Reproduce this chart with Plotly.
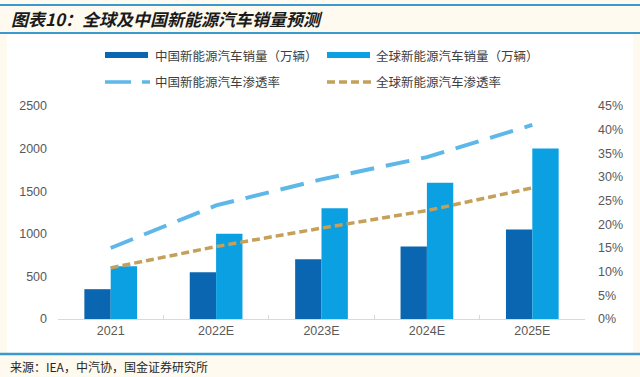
import plotly.graph_objects as go

# ---- data ----
categories = ["2021", "2022E", "2023E", "2024E", "2025E"]
china_sales = [350, 550, 700, 850, 1050]          # 万辆
global_sales = [620, 1000, 1300, 1600, 2000]      # 万辆
china_pen = [0.150, 0.240, 0.295, 0.342, 0.410]
global_pen = [0.108, 0.153, 0.192, 0.229, 0.277]

names = ["中国新能源汽车销量（万辆）", "全球新能源汽车销量（万辆）",
         "中国新能源汽车渗透率", "全球新能源汽车渗透率"]
title_text = "图表10：全球及中国新能源汽车销量预测"
source_text = "来源：IEA，中汽协，国金证券研究所"

C_DARK = "#0A66B0"
C_LIGHT = "#0AA0E2"
C_LINE1 = "#5DB7E8"
C_LINE2 = "#C5A05A"
CREAM = "#FEFAEF"
RULE = "#3A9AD0"

W, H = 640, 377
L, R, T, B = 58, 55, 106, 58
PW, PH = W - L - R, H - T - B

def px(x):
    return (x - L) / PW

def py(y):
    return (H - B - y) / PH

fig = go.Figure()
fig.add_trace(go.Bar(x=categories, y=china_sales, name=names[0], marker_color=C_DARK,
                     marker_line_width=0, showlegend=False))
fig.add_trace(go.Bar(x=categories, y=global_sales, name=names[1], marker_color=C_LIGHT,
                     marker_line_width=0, showlegend=False))
fig.add_trace(go.Scatter(x=categories, y=china_pen, name=names[2], yaxis="y2", mode="lines",
                         line=dict(color=C_LINE1, width=4, dash="24px,12px"), showlegend=False))
fig.add_trace(go.Scatter(x=categories, y=global_pen, name=names[3], yaxis="y2", mode="lines",
                         line=dict(color=C_LINE2, width=3.5, dash="8px,4px"), showlegend=False))

axis_font = dict(family="Arial, 'Liberation Sans', sans-serif", size=12.5, color="#595959")
cjk = "'Noto Sans CJK SC', sans-serif"

shapes = [
    # white panel
    dict(type="rect", xref="paper", yref="paper", x0=px(7), x1=px(633), y0=py(34), y1=py(353),
         fillcolor="white", line_width=0, layer="below"),
    # rules
    dict(type="line", xref="paper", yref="paper", x0=px(0), x1=px(640), y0=py(5), y1=py(5),
         line=dict(color=RULE, width=2)),
    dict(type="line", xref="paper", yref="paper", x0=px(0), x1=px(640), y0=py(33), y1=py(33),
         line=dict(color=RULE, width=2)),
    dict(type="line", xref="paper", yref="paper", x0=px(0), x1=px(640), y0=py(354), y1=py(354),
         line=dict(color=RULE, width=2.5)),
    # legend swatches
    dict(type="rect", xref="paper", yref="paper", x0=px(105), x1=px(148), y0=py(52), y1=py(58),
         fillcolor=C_DARK, line_width=0),
    dict(type="rect", xref="paper", yref="paper", x0=px(327), x1=px(370), y0=py(52), y1=py(58),
         fillcolor=C_LIGHT, line_width=0),
    dict(type="line", xref="paper", yref="paper", x0=px(105), x1=px(150), y0=py(82), y1=py(82),
         line=dict(color=C_LINE1, width=3.5, dash="26px,11px")),
    dict(type="line", xref="paper", yref="paper", x0=px(327), x1=px(372), y0=py(82), y1=py(82),
         line=dict(color=C_LINE2, width=3.5, dash="8px,4px")),
]

annotations = [
    dict(text=title_text, x=px(9), y=py(18), xref="paper", yref="paper", xanchor="left",
         yanchor="middle", showarrow=False,
         font=dict(family=cjk, size=17, color="#1A1A1A", weight="bold", style="italic")),
    dict(text=source_text, x=px(8), y=py(366), xref="paper", yref="paper", xanchor="left",
         yanchor="middle", showarrow=False, font=dict(family=cjk, size=12, color="#262626")),
    dict(text=names[0], x=px(153), y=py(55), xref="paper", yref="paper", xanchor="left",
         yanchor="middle", showarrow=False, font=dict(family=cjk, size=12.5, color="#404040")),
    dict(text=names[1], x=px(374), y=py(55), xref="paper", yref="paper", xanchor="left",
         yanchor="middle", showarrow=False, font=dict(family=cjk, size=12.5, color="#404040")),
    dict(text=names[2], x=px(153), y=py(82), xref="paper", yref="paper", xanchor="left",
         yanchor="middle", showarrow=False, font=dict(family=cjk, size=12.5, color="#404040")),
    dict(text=names[3], x=px(374), y=py(82), xref="paper", yref="paper", xanchor="left",
         yanchor="middle", showarrow=False, font=dict(family=cjk, size=12.5, color="#404040")),
]

fig.update_layout(
    width=W, height=H,
    margin=dict(l=L, r=R, t=T, b=B, pad=0),
    paper_bgcolor=CREAM, plot_bgcolor="rgba(0,0,0,0)",
    barmode="group", bargap=0.5, bargroupgap=0,
    showlegend=False,
    xaxis=dict(showgrid=False, showline=True, linecolor="#D9D9D9", linewidth=1,
               ticks="inside", tickson="boundaries", ticklen=4, tickcolor="#D9D9D9",
               tickfont=axis_font, zeroline=False),
    yaxis=dict(range=[0, 2500], dtick=500, showgrid=False, showline=False, zeroline=False,
               tickfont=axis_font, ticklabelstandoff=10),
    yaxis2=dict(range=[0, 0.45], dtick=0.05, tickformat=".0%", overlaying="y", side="right",
                showgrid=False, showline=False, zeroline=False, tickfont=axis_font,
                ticklabelstandoff=12),
    shapes=shapes, annotations=annotations,
)

fig.write_html(
    "out.html",
    config={"displayModeBar": False},
    post_script="document.body.style.margin='0';document.body.style.background='%s';" % CREAM,
)
